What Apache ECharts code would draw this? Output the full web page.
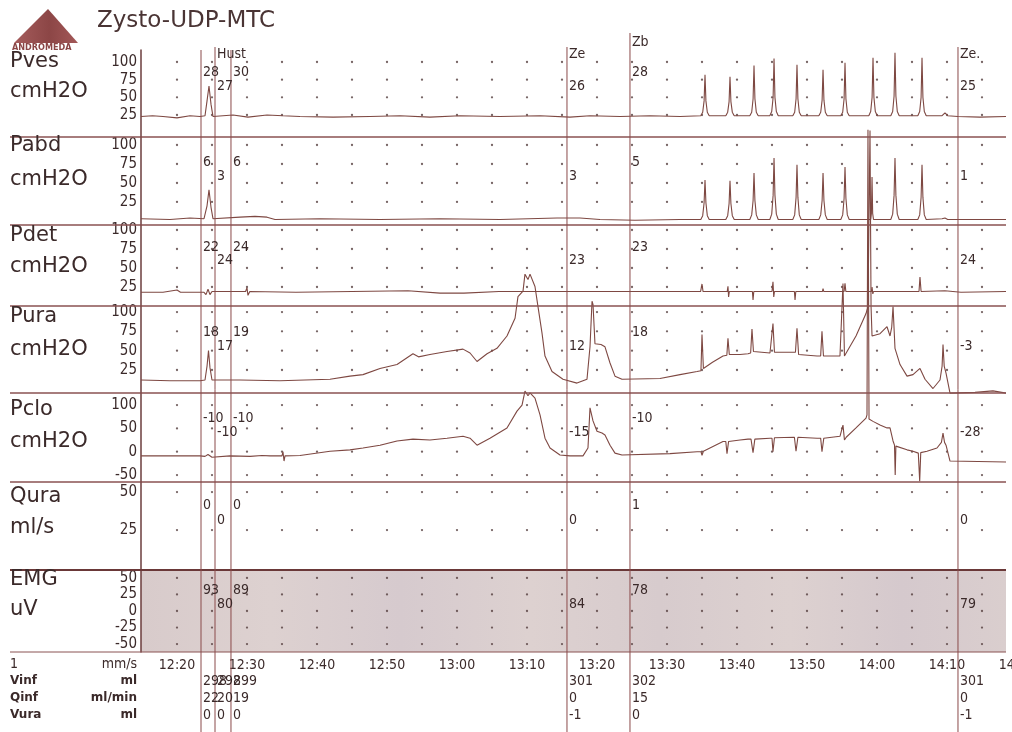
<!DOCTYPE html>
<html><head><meta charset="utf-8">
<script src="https://cdn.jsdelivr.net/npm/echarts@6/dist/echarts.min.js"></script>
<style>html,body{margin:0;padding:0;background:#fff}#c{width:1012px;height:732px}</style>
</head><body><div id="c"></div>
<script>
// ---------------- DATA (time = minutes after 12:20) ----------------
const timeTicks  = [0,10,20,30,40,50,60,70,80,90,100,110,120];
const timeLabels = ['12:20','12:30','12:40','12:50','13:00','13:10','13:20','13:30','13:40','13:50','14:00','14:10','14:20'];
const dotTimes   = [0,5,10,15,20,25,30,35,40,45,50,55,60,65,70,75,80,85,90,95,100,105,110,115];

const pvesTicks = [100,75,50,25];
const pabdTicks = [100,75,50,25];
const pdetTicks = [100,75,50,25];
const puraTicks = [100,75,50,25];
const pcloTicks = [100,50,0,-50];
const quraTicks = [50,25];
const emgTicks  = [50,25,0,-25,-50];

const markerTimes = [3.43,5.43,7.71,55.71,64.71,111.57];
const markerNames = ['','Hust','','Ze','Zb','Ze.'];
const markerLevel = [0,1,0,1,0,1];
const pvesMarks = [28,27,30,26,28,25];
const pabdMarks = [6,3,6,3,5,1];
const pdetMarks = [22,24,24,23,23,24];
const puraMarks = [18,17,19,12,18,-3];
const pcloMarks = [-10,-10,-10,-15,-10,-28];
const quraMarks = [0,0,0,0,1,0];
const emgMarks  = [93,80,89,84,78,79];
const vinfMarks = [298,298,299,301,302,301];
const qinfMarks = [22,20,19,0,15,0];
const vuraMarks = [0,0,0,-1,0,-1];

const pves = [[-5.14,23],[-3.5,24],[-2,23],[0,21],[1.86,24],[3.29,23],[4.0,24],[4.29,45],[4.57,66],[4.86,40],[5.14,23],[8.0,25],[10.14,22],[12.86,25],[15.14,24],[17.57,23],[22.29,22],[27.57,23],[31.86,24],[36.14,22],[40.43,24],[46.14,23],[51.86,24],[56.14,22],[59.0,24],[63.29,23],[67.57,24],[71.86,23],[74.83,24],
 [75.1,29],[75.3,45],[75.43,82],[75.56,45],[75.76,29],[76.03,24],[78.4,24],[78.67,29],[78.87,44],[79.0,79],[79.13,44],[79.33,29],[79.6,24],
 [81.83,24],[82.1,29],[82.3,48],[82.43,95],[82.56,48],[82.76,29],[83.03,24],[84.69,24],[84.96,30],[85.16,50],[85.29,105],[85.42,50],[85.62,30],[85.89,24],
 [87.97,24],[88.24,29],[88.44,48],[88.57,96],[88.7,48],[88.9,29],[89.17,24],[91.69,24],[91.96,29],[92.16,46],[92.29,89],[92.42,46],[92.62,29],[92.89,24],
 [94.83,24],[95.1,29],[95.3,48],[95.43,99],[95.56,48],[95.76,29],[96.03,24],[98.83,24],[99.1,30],[99.3,50],[99.43,106],[99.56,50],[99.76,30],[100.03,24],
 [101.97,24],[102.24,30],[102.44,52],[102.57,113],[102.7,52],[102.9,30],[103.17,24],[105.83,24],[106.1,30],[106.3,50],[106.43,106],[106.56,50],[106.76,30],[107.03,24],
 [109.3,24],[109.71,28],[110.1,24],[111.57,23],[114.71,22],[118.43,23]];

const pabd = [[-5.14,3],[-1,2],[1.86,4],[3.86,3],[4.29,20],[4.57,41],[4.86,18],[5.14,3],[9.0,5],[11.14,6],[12.86,5],[14.0,2],[20.43,3],[29.0,2],[37.57,3],[46.14,2],[54.29,4],[57.57,4],[60.43,2],[65.43,1],[71.86,2],[74.83,2],
 [75.1,7],[75.3,24],[75.43,54],[75.56,24],[75.76,7],[76.03,2],[78.4,2],[78.67,7],[78.87,23],[79.0,53],[79.13,23],[79.33,7],[79.6,2],
 [81.83,2],[82.1,8],[82.3,27],[82.43,63],[82.56,27],[82.76,8],[83.03,2],[84.69,2],[84.96,9],[85.16,34],[85.29,83],[85.42,34],[85.62,9],[85.89,2],
 [87.97,2],[88.24,8],[88.44,31],[88.57,74],[88.7,31],[88.9,8],[89.17,2],[91.69,2],[91.96,8],[92.16,27],[92.29,63],[92.42,27],[92.62,8],[92.89,2],
 [94.83,2],[95.1,8],[95.3,30],[95.43,71],[95.56,30],[95.76,8],[96.03,2],[99.1,2],[99.2,10],[99.29,58],[99.38,10],[99.5,2],
 [101.97,2],[102.24,9],[102.44,34],[102.57,83],[102.7,34],[102.9,9],[103.17,2],[105.83,2],[106.1,8],[106.3,31],[106.43,74],[106.56,31],[106.76,8],[107.03,2],
 [109.3,3],[109.71,4],[110.1,2],[114,2],[118.43,2]];

const pdet = [[-5.14,18],[-2,18],[0,21],[0.5,18],[3.86,18],[4.14,15],[4.43,22],[4.71,15],[5.0,19],[9.8,19],[10.0,24],[10.14,14],[10.4,19],[17,18],[25,19],[33,20],[37.57,17],[41,17],[46,19],[55,19],[62,19],[70,19],
 [74.8,19],[75.0,29],[75.15,19],[78.6,19],[78.71,26],[78.8,12],[78.9,19],[82.2,19],[82.29,8],[82.4,19],
 [85.0,19],[85.14,32],[85.25,12],[85.35,19],[88.2,19],[88.29,8],[88.4,19],[92.2,19],[92.29,23],[92.4,19],
 [95.3,19],[95.43,30],[95.55,19],[99.2,19],[99.29,25],[99.4,16],[99.5,19],[106.0,19],[106.14,38],[106.3,19],
 [109.7,20],[112,18],[118.43,19]];

const pura = [[-5.14,12],[-1,11],[3.29,11],[4.0,12],[4.29,30],[4.5,50],[4.71,28],[5.0,12],[9,12],[14.71,11],[21.86,13],[24.71,17],[26.57,19],[29,27],[31.43,32],[33.71,46],[34.5,42],[36.14,45],[38.57,49],[40.86,52],[41.86,47],[42.86,36],[44.29,46],[45.71,53],[47.14,69],[48.29,92],[48.71,120],[49.43,127],[49.71,149],[50.14,142],[50.43,149],[51.14,133],[51.57,107],[52.14,73],[52.57,43],[53.57,23],[55.14,13],[57.14,8],[58.57,13],[59.0,55],[59.29,114],[59.43,110],[59.71,59],[60.57,58],[61.14,55],[61.86,34],[62.57,17],[63.57,13],[69,14],[71.86,19],[74.29,23],
 [74.85,24],[75.0,71],[75.2,27],[76.5,35],[78,43],[78.55,44],[78.71,66],[78.9,45],[80.43,45],[81.57,46],[81.95,47],[82.14,78],[82.35,49],[84.71,47],[84.95,48],[85.14,85],[85.35,48],[88.35,48],[88.57,79],[88.8,45],[91.43,43],[91.95,43],[92.14,75],[92.35,43],[94.71,43],[94.95,43],[95.14,137],[95.35,43],[97,69],[98.43,98],[98.71,107],[99.0,335],[99.15,107],[99.29,69],[100.43,72],[101.43,81],[101.86,69],[102.1,80],[102.29,107],[102.57,53],[103.29,32],[104.29,17],[105.14,19],[106.14,27],[106.86,13],[108,1],[109,12],[109.3,30],[109.43,58],[109.6,30],[109.86,21],[110.43,-5],[114,-4],[116.57,-2],[118.43,-5]];

const pclo = [[-5.14,-9],[0,-9],[3.29,-9],[4.0,-10],[4.43,-6],[5.0,-12],[7.57,-9],[10.43,-10],[12.14,-8],[13.29,-9],[15.0,-9],[15.14,0],[15.29,-20],[15.43,-9],[17.57,-8],[21.86,1],[24.71,4],[26.57,8],[29,14],[31.43,23],[33.71,27],[36.14,25],[38.57,29],[40.86,33],[41.86,29],[42.86,14],[44.71,29],[47.14,51],[48.57,87],[49.29,100],[49.71,130],[50.14,120],[50.43,126],[51.14,115],[51.86,79],[52.57,29],[53.29,8],[54.71,-7],[56.14,-9],[58.0,-9],[58.71,8],[59.0,94],[59.43,66],[60.0,44],[60.71,40],[61.14,36],[61.86,14],[62.57,-3],[63.57,-7],[70.43,-4],[74.29,0],
 [74.85,0],[75.0,-8],[75.2,1],[78,22],[78.4,22],[78.57,-4],[78.8,22],[80.43,25],[81.57,27],[82.0,27],[82.29,-2],[82.55,27],[84.71,29],[85.0,29],[85.14,0],[85.35,30],[88.2,31],[88.43,1],[88.7,31],[91.43,29],[91.95,29],[92.14,0],[92.4,29],[94.71,33],[95.14,57],[95.35,25],[95.6,31],[97,51],[98.43,72],[98.57,79],[98.71,690],[98.86,70],[99.43,65],[100.43,57],[101.43,51],[101.86,51],[102.29,23],[102.5,14],[102.6,-50],[102.7,12],[104.29,4],[105.14,1],[105.9,-3],[106.1,-63],[106.25,-2],[107.14,1],[108.57,8],[109.2,20],[109.43,40],[109.65,20],[109.86,14],[110.43,-20],[118.43,-22]];

// ---------------- LAYOUT ----------------
const FONT = '"DejaVu Sans Condensed","DejaVu Sans",sans-serif';
const FONTW = '"DejaVu Sans",sans-serif';
const INK = '#3b2a2a', TRACE = '#7e4842', RULE = '#8a5252';
const T0 = -36/7, T1 = 829/7;
const panels = [
 {key:'Pves', unit:'cmH2O', top:50,  bottom:137, min:-6.1,  max:117,   ticks:pvesTicks, marks:pvesMarks, l1:62,  l2:92,  yA:72,  yB:86},
 {key:'Pabd', unit:'cmH2O', top:137, bottom:225, min:-5.3,  max:110.5, ticks:pabdTicks, marks:pabdMarks, l1:146, l2:180, yA:162, yB:176},
 {key:'Pdet', unit:'cmH2O', top:225, bottom:306, min:0,     max:106.6, ticks:pdetTicks, marks:pdetMarks, l1:236, l2:267, yA:247, yB:260},
 {key:'Pura', unit:'cmH2O', top:306, bottom:393, min:-4.8,  max:107.8, ticks:puraTicks, marks:puraMarks, l1:317, l2:350, yA:332, yB:346},
 {key:'Pclo', unit:'cmH2O', top:393, bottom:482, min:-64.9, max:125.8, ticks:pcloTicks, marks:pcloMarks, l1:410, l2:442, yA:418, yB:432},
 {key:'Qura', unit:'ml/s',  top:482, bottom:570, min:-1.3,  max:56.6,  ticks:quraTicks, marks:quraMarks, l1:497, l2:528, yA:505, yB:520},
 {key:'EMG',  unit:'uV',    top:570, bottom:652, min:-62,   max:62,    ticks:emgTicks,  marks:emgMarks,  l1:580, l2:610, yA:590, yB:604}
];
const traces = [pves,pabd,pdet,pura,pclo];

const grid = panels.map((p,i)=>({left:141,width:865,top:p.top,height:p.bottom-p.top,outerBoundsMode:'none',containLabel:false,
  show:i===6, borderWidth:0,
  backgroundColor: i===6 ? {type:'linear',x:0,y:0,x2:1,y2:0,colorStops:[
    {offset:0,color:'#d8cbcb'},{offset:0.15,color:'#ddd1d0'},{offset:0.3,color:'#d6cace'},{offset:0.45,color:'#ddd1d0'},
    {offset:0.6,color:'#d7cbcd'},{offset:0.75,color:'#ddd1d0'},{offset:0.88,color:'#d5c9cd'},{offset:1,color:'#dacece'}]} : 'transparent'}));
grid.push({left:107,width:980,top:655,height:70,outerBoundsMode:'none',containLabel:false});

const xAxis = panels.map((p,i)=>({gridIndex:i,type:'value',min:T0,max:T1,show:false}));
xAxis.push({gridIndex:7,type:'value',min:-10,max:130,interval:10,position:'top',
  axisLine:{show:false},axisTick:{show:false},splitLine:{show:false},
  axisLabel:{inside:true,margin:3,fontSize:14,color:INK,fontFamily:FONT,
    formatter:v=>{const k=timeTicks.indexOf(Math.round(v));return k>=0?timeLabels[k]:'';}}});

const yAxis = panels.map((p,i)=>({gridIndex:i,type:'value',min:p.min,max:p.max,
  axisLine:{show:true,onZero:false,lineStyle:{color:'#6b3c3c',width:1.5}},axisTick:{show:false},splitLine:{show:false},
  axisLabel:{customValues:p.ticks,fontSize:15,color:INK,margin:4,fontFamily:FONT,showMinLabel:true,showMaxLabel:true}}));
yAxis.push({gridIndex:7,type:'value',min:0,max:1,show:false});

const series = [];
panels.forEach((p,i)=>{
  const d=[]; p.ticks.forEach(v=>dotTimes.forEach(t=>d.push([t,v])));
  series.push({type:'scatter',xAxisIndex:i,yAxisIndex:i,data:d,symbolSize:2.3,silent:true,
    itemStyle:{color:'#553f3f'},z:2});
});
traces.forEach((tr,i)=>{
  series.push({type:'line',xAxisIndex:i,yAxisIndex:i,data:tr,showSymbol:false,symbol:'none',
    clip:false,silent:true,lineStyle:{color:TRACE,width:1.1},z:3});
});

const chart = echarts.init(document.getElementById('c'),null,{renderer:'canvas',width:1012,height:732});
chart.setOption({backgroundColor:'#ffffff',animation:false,grid,xAxis,yAxis,series});

// ---------------- GRAPHIC (labels, rules, markers) ----------------
const g = [];
const txt = (text,x,y,size,opt={})=>g.push({type:'text',silent:true,z:opt.z||50,style:{text:String(text),x,y,
  font:(opt.weight||'normal')+' '+size+'px '+(opt.family||FONT),fill:opt.fill||INK,
  textAlign:opt.align||'left',textVerticalAlign:'middle'}});
g.push({type:'polygon',silent:true,shape:{points:[[48,9],[14,43],[78,43]]},
  style:{fill:{type:'linear',x:0,y:0,x2:1,y2:0,colorStops:[{offset:0,color:'#a55c5c'},{offset:0.55,color:'#8c4646'},{offset:1,color:'#a35858'}]}}});
txt('ANDROMEDA',12,48,9,{weight:'bold',family:FONT,fill:'#8a4545'});
txt('Zysto-UDP-MTC',97,21,23,{family:FONTW,fill:'#4a3434'});
panels.forEach(p=>{ txt(p.key,10,p.l1,21,{family:FONTW}); txt(p.unit,10,p.l2,21,{family:FONTW}); });
panels.forEach((p,i)=>{ if(i>0) g.push({type:'line',silent:true,z:10,shape:{x1:10,y1:p.top,x2:1006,y2:p.top},
  style:{stroke:i===6?'#6a3838':RULE,lineWidth:i===6?2:1.3}}); });
g.push({type:'line',silent:true,z:10,shape:{x1:10,y1:652,x2:1006,y2:652},style:{stroke:RULE,lineWidth:1}});
const rowY = [664,681,698,715];
txt('1',10,rowY[0],14); txt('mm/s',137,rowY[0],14,{align:'right'});
[['Vinf','ml'],['Qinf','ml/min'],['Vura','ml']].forEach((r,k)=>{
  txt(r[0],10,rowY[k+1],12,{weight:'bold',family:FONTW}); txt(r[1],137,rowY[k+1],12,{weight:'bold',family:FONTW,align:'right'});
});
markerTimes.forEach((t,i)=>{
  const x = chart.convertToPixel({xAxisIndex:0}, t);
  const lv = markerLevel[i];
  const top = markerNames[i] ? (lv ? 47 : 33) : 50;
  g.push({type:'line',silent:true,z:20,shape:{x1:x,y1:top,x2:x,y2:732},style:{stroke:'#8a4a4a',lineWidth:1}});
  if(markerNames[i]) txt(markerNames[i],x+2,lv?54:42,14);
  panels.forEach(p=>txt(p.marks[i],x+2,lv?p.yB:p.yA,14));
  txt(vinfMarks[i],x+2,rowY[1],14);
  txt(qinfMarks[i],x+2,rowY[2],14);
  txt(vuraMarks[i],x+2,rowY[3],14);
});
chart.setOption({graphic:g});
</script></body></html>
